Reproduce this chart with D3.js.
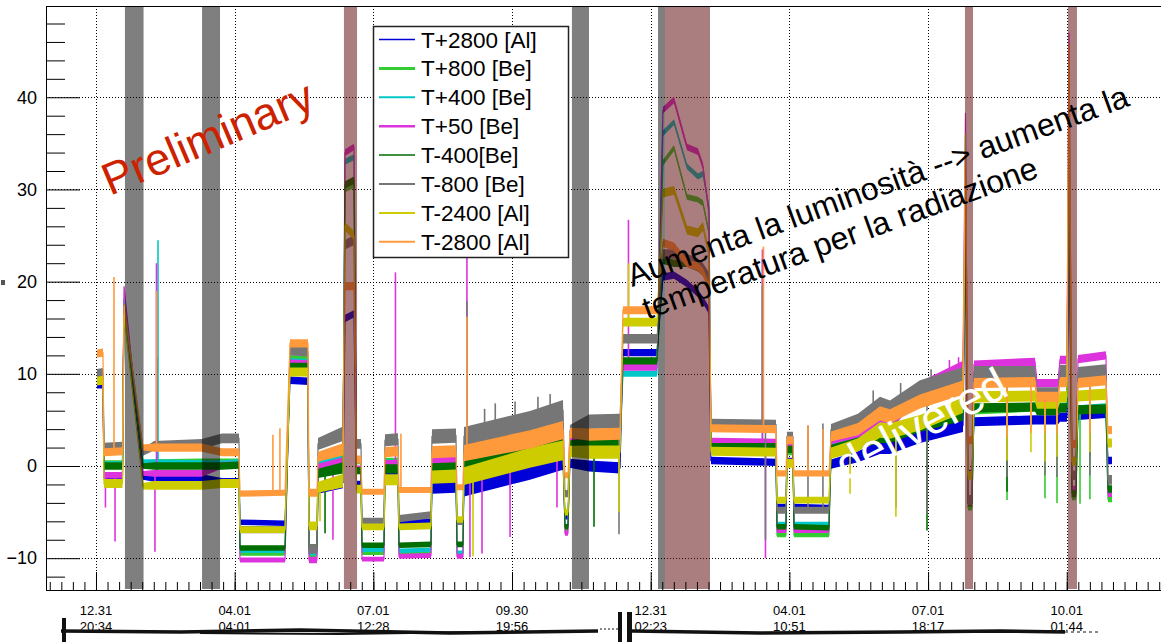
<!DOCTYPE html>
<html>
<head>
<meta charset="utf-8">
<script src="https://cdn.jsdelivr.net/npm/d3@7"></script>
<style>
  body { margin: 0; background: #fff; }
  svg { display: block; font-family: "Liberation Sans", Arial, Helvetica, sans-serif; }
</style>
</head>
<body>
<svg id="chart" width="1161" height="642"></svg>
<script>
// time in days after the first labelled tick (12.31 20:34)
var days = [0.66, 4.59, 5.25, 17.39, 18.37, 30.84, 38.06, 69.55, 82.68, 93.83,
  94.49, 124.02, 127.30, 139.11, 139.76, 145.01, 145.67, 162.07, 163.39, 169.29,
  170.93, 173.88, 174.54, 188.98, 189.63, 198.16, 198.82, 219.82, 220.47, 236.22,
  236.88, 240.81, 241.47, 284.78, 306.43, 307.74, 309.71, 311.02, 323.49, 343.83,
  345.80, 368.11, 372.05, 379.27, 387.80, 395.01, 398.29, 402.23, 403.54, 446.19,
  446.85, 452.76, 453.41, 457.35, 458.01, 480.97, 482.28, 500.00, 514.44, 521.00,
  540.68, 568.90, 570.54, 572.18, 574.80, 576.12, 616.14, 617.45, 631.23, 632.55,
  637.14, 638.45, 640.42, 643.04, 644.36, 662.73, 664.04, 666.67];

// spread of the readings (half range, °C) at each of those times
var noise = [0.4, 0.4, 0.4, 0.4, 0.2, 0.3, 0.4, 0.4, 0.4, 0.4,
  0.3, 0.3, 0.4, 0.4, 0.4, 0.4, 0.5, 0.6, 0.4, 0.4,
  0.4, 0.4, 0.3, 0.3, 0.5, 0.5, 0.3, 0.3, 0.6, 0.6,
  0.3, 0.3, 0.8, 0.9, 0.9, 0.3, 0.3, 0.5, 0.6, 0.6,
  0.4, 0.4, 0.4, 0.4, 0.4, 0.4, 0.4, 0.4, 0.4, 0.4,
  0.3, 0.3, 0.4, 0.4, 0.3, 0.3, 0.5, 0.6, 0.7, 0.7,
  0.7, 0.7, 0.5, 0.4, 0.4, 0.5, 0.5, 0.5, 0.5, 0.5,
  0.5, 0.5, 0.4, 0.4, 0.5, 0.5, 0.4, 0.4];

var tPlus2800 = [8.8, 8.8, -1.3, -1.3, 17.0, -1.2, -1.3, -1.3, -1.7, -1.7,
  -6.1, -6.2, 9.3, 9.2, -9.2, -9.2, -2.5, -1.8, 16.0, 16.5,
  -2.0, -2.0, -6.2, -6.2, -0.8, -0.8, -6.1, -6.0, -2.4, -2.3,
  -6.0, -6.0, -2.5, -0.6, 0.5, -5.5, -5.5, 0.3, 0.0, -0.2,
  12.3, 12.3, 20.5, 20.7, 19.8, 18.7, 18.0, 16.9, 0.6, 0.4,
  -4.4, -4.4, 0.5, 0.5, -4.4, -4.5, 0.2, 1.0, 2.0, 2.0,
  3.2, 4.4, 24.0, -0.8, -0.8, 4.8, 5.0, 5.0, 5.0, 5.3,
  5.3, 26.0, 0.6, 0.6, 5.5, 5.7, 0.6, 0.6];

var tPlus800 = [9.5, 9.4, 0.3, 0.3, 18.0, 0.3, 0.4, 0.5, 0.5, 0.5,
  -9.5, -9.5, 11.7, 11.6, -9.6, -9.6, 0.3, 0.8, 30.0, 30.5,
  0.5, 0.5, -9.4, -9.4, 0.5, 0.5, -9.5, -9.4, 0.3, 0.4,
  -9.5, -9.5, 0.2, 2.0, 2.9, -6.8, -6.8, 2.5, 2.3, 2.4,
  11.2, 11.2, 32.9, 34.5, 29.2, 28.9, 28.5, 25.3, 2.0, 2.0,
  -7.5, -7.5, 1.5, 1.5, -7.5, -7.5, 1.8, 2.6, 3.4, 3.3,
  4.6, 5.8, 32.0, -4.5, -4.5, 6.0, 6.3, 6.4, 6.4, 6.4,
  6.4, 38.0, -3.4, -3.4, 6.0, 6.3, -3.6, -3.6];

var tPlus400 = [9.8, 9.9, 0.2, 0.2, 18.2, 0.5, 0.4, 0.3, 0.3, 0.4,
  -9.2, -9.2, 11.4, 11.3, -9.4, -9.4, 0.4, 0.9, 33.0, 33.5,
  0.6, 0.6, -9.1, -9.1, 0.3, 0.3, -9.2, -9.1, 0.4, 0.5,
  -9.4, -9.4, 0.3, 2.1, 3.0, -6.5, -6.5, 2.8, 2.4, 2.5,
  10.0, 10.0, 36.1, 37.3, 32.5, 31.4, 31.7, 28.1, 2.2, 2.2,
  -6.3, -6.3, 2.0, 2.0, -6.3, -6.3, 2.0, 2.8, 3.6, 3.5,
  4.7, 5.9, 36.0, -4.0, -4.0, 6.2, 6.5, 7.0, 7.0, 6.5,
  6.5, 42.0, -3.0, -3.0, 6.2, 6.4, -3.0, -3.0];

var tPlus50 = [9.6, 9.8, -1.0, -1.0, 19.5, -0.8, -0.8, -0.8, 0.1, 0.1,
  -10.2, -10.2, 11.2, 11.1, -10.2, -10.2, -0.2, 0.4, 34.0, 34.6,
  -0.3, -0.3, -10.1, -10.1, 0.2, 0.2, -9.8, -9.7, 0.6, 0.6,
  -9.8, -9.8, 0.5, 2.3, 3.1, -7.3, -7.3, 2.8, 2.6, 2.7,
  10.7, 10.7, 38.6, 39.7, 34.6, 34.1, 32.5, 27.4, 2.7, 2.6,
  -7.0, -7.0, 2.2, 2.2, -7.0, -7.0, 2.8, 3.6, 4.4, 4.3,
  8.5, 10.8, 38.3, -3.5, -3.5, 11.0, 11.3, 9.0, 9.0, 11.5,
  11.5, 47.0, -2.5, -2.5, 11.6, 12.0, -3.0, -3.0];

var tMinus400 = [9.3, 9.2, 0.0, 0.0, 17.5, 0.0, 0.0, 0.0, 0.0, 0.1,
  -8.9, -8.9, 10.8, 10.8, -8.9, -8.9, -0.8, -0.2, 30.5, 31.0,
  -0.5, -0.5, -8.6, -8.6, -0.3, -0.3, -8.6, -8.5, -0.3, -0.2,
  -8.5, -8.5, 0.0, 1.8, 2.8, -6.6, -6.6, 2.3, 2.4, 2.4,
  11.4, 11.4, 22.3, 22.0, 22.0, 21.5, 21.0, 20.0, 2.1, 2.1,
  -6.6, -6.6, 1.8, 1.8, -6.6, -6.7, 1.8, 2.5, 3.2, 3.2,
  4.4, 5.6, 28.0, -4.0, -4.0, 6.3, 6.4, 6.0, 6.0, 6.3,
  6.3, 32.0, -3.0, -3.0, 6.1, 6.2, -2.5, -2.5];

var tMinus800 = [10.0, 10.1, 2.0, 2.1, 17.0, 1.5, 2.2, 2.4, 3.0, 3.0,
  -6.9, -6.9, 12.5, 12.4, -9.0, -9.0, 2.4, 3.5, 24.0, 24.5,
  2.4, 2.4, -6.0, -6.0, 2.8, 2.9, -5.7, -5.3, 3.2, 3.3,
  -6.0, -6.0, 3.2, 4.8, 6.0, -3.0, -3.0, 3.8, 4.8, 4.9,
  13.8, 13.8, 23.0, 23.0, 22.5, 22.0, 21.5, 20.5, 4.6, 4.5,
  -4.8, -4.8, 3.2, 3.2, -4.8, -4.8, 3.9, 4.9, 6.6, 6.2,
  8.4, 9.8, 30.0, -3.7, -3.7, 10.2, 10.2, 7.9, 7.9, 10.3,
  10.3, 36.0, -1.0, -1.0, 10.1, 10.4, -1.5, -1.5];

var tMinus2400 = [9.2, 9.3, -1.9, -1.9, 16.5, -2.2, -2.1, -2.1, -1.9, -1.9,
  -6.9, -6.9, 10.2, 10.2, -6.5, -6.5, -2.3, -1.6, 26.0, 25.0,
  -2.5, -2.5, -6.6, -6.6, -1.5, -1.5, -6.6, -6.5, -1.2, -1.1,
  -5.8, -5.8, -1.1, 0.9, 1.7, -5.0, -5.0, 1.6, 1.5, 1.5,
  15.6, 15.6, 29.6, 29.9, 25.6, 25.3, 26.0, 23.0, 1.6, 1.5,
  -3.7, -3.7, 0.3, 0.3, -3.7, -3.7, 1.4, 2.3, 3.9, 3.8,
  4.7, 6.6, 36.0, -1.0, -1.0, 7.5, 7.6, 6.8, 6.8, 7.5,
  7.5, 44.0, 0.5, 0.5, 7.6, 7.8, 2.5, 2.5];

var tMinus2800 = [12.2, 12.3, 1.5, 1.6, 17.5, 2.0, 2.0, 2.0, 1.5, 1.5,
  -3.0, -2.9, 13.3, 13.3, -2.9, -2.9, 1.0, 1.8, 19.5, 19.5,
  0.7, 0.7, -2.8, -2.8, 1.5, 1.6, -2.6, -2.6, 1.5, 1.6,
  -2.3, -2.3, 1.4, 2.9, 3.9, -1.0, -1.0, 3.6, 3.4, 3.5,
  16.9, 16.9, 24.2, 23.8, 22.0, 21.6, 21.0, 19.5, 4.1, 4.0,
  -0.8, -0.8, 2.8, 2.8, -0.8, -0.8, 3.2, 4.0, 5.7, 5.4,
  7.0, 8.5, 34.0, 2.8, 2.8, 9.0, 9.1, 7.5, 7.5, 9.1,
  9.1, 45.8, 2.4, 2.4, 9.0, 9.3, 3.9, 3.9];

var seriesNames = ["T+2800 [Al]", "T+800 [Be]", "T+400 [Be]", "T+50 [Be]",
  "T-400[Be]", "T-800 [Be]", "T-2400 [Al]", "T-2800 [Al]"];
var seriesValues = [tPlus2800, tPlus800, tPlus400, tPlus50, tMinus400, tMinus800, tMinus2400, tMinus2800];

// short excursions: [series index, day, from, to]
var spikes = [
  [3, 6.2, -1.0, -4.5], [7, 11.8, 1.5, 20.5], [3, 12.5, -1.0, -8.2],
  [3, 38.7, -0.8, -9.3], [3, 39.7, -0.8, 22.0], [7, 39.7, 2.0, 19.0],
  [2, 40.7, 0.4, 24.5], [0, 40.0, -1.3, 11.8],
  [7, 116.1, -2.9, 3.4], [7, 120.7, -2.9, 4.1],
  [6, 147.0, -2.2, -6.0], [4, 150.3, -0.7, -7.3], [3, 155.5, 0.0, -8.0],
  [3, 196.5, 0.2, 21.0], [7, 200.1, -2.6, 3.5],
  [3, 243.4, 0.5, 23.0], [5, 243.4, 4.0, 17.9], [7, 243.4, 1.3, 16.2],
  [3, 245.4, 0.5, -9.9], [6, 247.4, -1.2, -9.8], [3, 253.3, 1.0, -9.5],
  [5, 255.0, 3.8, 6.2], [5, 262.0, 4.0, 6.8], [5, 275.0, 4.5, 7.0],
  [5, 290.0, 5.0, 7.5], [5, 298.0, 5.5, 7.8],
  [3, 271.7, 1.8, -7.7], [3, 302.5, 3.0, -4.5], [4, 326.8, 2.4, -6.6],
  [5, 343.2, 4.9, -7.4], [6, 343.2, 1.5, -5.0],
  [3, 349.4, 10.7, 26.7], [6, 349.4, 15.6, 22.0],
  [3, 437.3, 2.6, 23.5], [2, 437.3, 2.2, 22.5], [5, 437.3, 4.5, 19.5],
  [7, 438.0, 4.0, 23.8], [3, 439.3, 2.6, -10.0], [5, 439.3, 4.5, -8.0],
  [5, 467.2, -4.8, 4.4], [7, 467.2, -0.8, 4.4],
  [5, 477.0, -4.8, 4.6], [7, 477.0, -0.8, 4.0],
  [5, 510.0, 6.0, 8.2], [5, 528.0, 6.4, 9.0], [5, 548.0, 8.6, 10.5],
  [3, 560.0, 9.5, 11.5], [3, 566.0, 9.8, 11.8],
  [6, 494.8, 2.0, -3.0], [6, 524.9, 3.8, -5.5], [5, 524.9, 6.6, -4.5],
  [5, 545.3, 8.0, -5.2], [4, 545.3, 4.5, -7.0],
  [1, 597.8, 6.3, -3.7], [4, 597.8, 6.4, -2.8], [5, 597.8, 10.4, -1.2],
  [6, 597.8, 7.6, 0.6], [0, 597.8, 5.0, 0.0], [7, 597.8, 9.0, 3.1],
  [7, 613.5, 9.0, 3.6], [6, 613.5, 7.6, 1.5],
  [1, 622.7, 6.4, -3.5], [5, 622.7, 7.9, -1.0], [6, 622.7, 6.8, 0.5],
  [7, 622.7, 7.5, 3.5], [0, 622.7, 5.0, 0.5],
  [1, 630.6, 6.4, -4.0], [5, 630.6, 7.9, -1.2], [6, 630.6, 6.8, 1.0], [7, 630.6, 7.5, 3.5],
  [1, 645.7, 6.0, -4.1],
  [1, 652.2, 6.0, -3.6], [5, 652.2, 10.3, -1.0], [6, 652.2, 7.6, 1.5],
  [7, 652.2, 9.0, 3.5], [0, 652.2, 5.5, 1.0]
];

// shaded periods [start day, end day]
var greyBands = [[19.0, 31.2], [69.6, 81.4], [312.3, 323.5], [368.8, 373.4]];
var beamBands = [[162.7, 171.3], [373.4, 402.9], [570.2, 575.5], [637.8, 643.7]];

var tickDays = [0, 91, 182, 273, 364, 455, 546, 637];
var tickDates = ["12.31", "04.01", "07.01", "09.30", "12.31", "04.01", "07.01", "10.01"];
var tickTimes = ["20:34", "04:01", "12:28", "19:56", "02:23", "10:51", "18:17", "01:44"];
var yTicks = [-10, 0, 10, 20, 30, 40];

var colors = ["#0000d8", "#33cc33", "#00c8c8", "#dd33dd", "#006e00", "#767676", "#cccc00", "#ff9a3c"];
var spreadScale = [1.0, 0.8, 0.8, 0.9, 1.0, 1.3, 1.2, 1.1];
var legendWidth = [1.5, 3, 2, 2.5, 1.5, 2, 2, 2];

var svg = d3.select("#chart");
var plotL = 46, plotR = 1162, plotT = 6, plotB = 590;
var x = d3.scaleLinear().domain([-32.8, 699.5]).range([plotL, plotR]);
var y = d3.scaleLinear().domain([-13.45, 49.9]).range([plotB, plotT]);

svg.append("rect").attr("width", 1161).attr("height", 642).attr("fill", "#fff");

// dotted grid
var grid = svg.append("g").attr("stroke", "#000").attr("stroke-width", 1).attr("stroke-dasharray", "1,2");
grid.selectAll(".gy").data(yTicks).join("line")
  .attr("x1", plotL).attr("x2", plotR)
  .attr("y1", d => Math.round(y(d)) + 0.5).attr("y2", d => Math.round(y(d)) + 0.5);
grid.selectAll(".gx").data(tickDays).join("line")
  .attr("y1", plotT).attr("y2", plotB)
  .attr("x1", d => Math.round(x(d)) + 0.5).attr("x2", d => Math.round(x(d)) + 0.5);

// series: a band for the spread of the readings plus a thin trace
var line = d3.line().x(d => x(d[0])).y(d => y(d[1]));
var plot = svg.append("g");
seriesValues.forEach(function(vals, i) {
  var pts = days.map((d, k) => [d, vals[k], noise[k] * spreadScale[i]]);
  var band = d3.area().x(d => x(d[0]))
    .y0(d => Math.max(y(d[1] - d[2]), y(d[1]) + 1.5))
    .y1(d => Math.min(y(d[1] + d[2]), y(d[1]) - 1.5));
  plot.append("path").datum(pts).attr("d", band).attr("fill", colors[i]);
  plot.append("path").datum(pts).attr("d", line)
    .attr("fill", "none").attr("stroke", colors[i]).attr("stroke-width", 1.2);
  plot.selectAll(null).data(spikes.filter(s => s[0] === i)).join("line")
    .attr("x1", s => x(s[1])).attr("x2", s => x(s[1]))
    .attr("y1", s => y(s[2])).attr("y2", s => y(s[3]))
    .attr("stroke", colors[i]).attr("stroke-width", 1.6);
});

// shaded periods drawn over the data
svg.append("g").selectAll("rect").data(greyBands).join("rect")
  .attr("x", d => x(d[0])).attr("width", d => x(d[1]) - x(d[0]))
  .attr("y", 7).attr("height", 582).attr("fill", "rgba(0,0,0,0.5)");
svg.append("g").selectAll("rect").data(beamBands).join("rect")
  .attr("x", d => x(d[0])).attr("width", d => x(d[1]) - x(d[0]))
  .attr("y", 7).attr("height", 582).attr("fill", "rgba(100,20,20,0.55)");

// axes
var gy = svg.append("g").attr("transform", "translate(" + plotL + ",0)")
  .call(d3.axisLeft(y).tickValues(yTicks).tickSizeInner(-34).tickSizeOuter(0).tickPadding(9));
svg.append("g").attr("transform", "translate(" + plotL + ",0)")
  .call(d3.axisLeft(y).tickValues(d3.range(-12, 50, 2).filter(v => v % 10 !== 0)).tickSize(-19).tickFormat(""));
gy.selectAll("text").attr("font-size", 18).attr("font-family", "Liberation Sans, Arial, sans-serif").attr("fill", "#000");

svg.append("g").attr("transform", "translate(0," + plotB + ")")
  .call(d3.axisBottom(x).tickValues(tickDays).tickSizeInner(-18).tickSizeOuter(0).tickFormat(""));
svg.append("g").attr("transform", "translate(0," + plotB + ")")
  .call(d3.axisBottom(x).tickValues(d3.range(-4, 93).map(k => k * 91 / 12)).tickSize(-8).tickFormat(""));
svg.append("line").attr("x1", plotL).attr("x2", plotR).attr("y1", plotT + 0.5).attr("y2", plotT + 0.5)
  .attr("stroke", "#000").attr("stroke-width", 1.2);

var xl = svg.append("g").attr("font-size", 13).attr("text-anchor", "middle").attr("fill", "#000");
xl.selectAll(".d").data(tickDays).join("text").attr("x", d => x(d)).attr("y", 615).text((d, i) => tickDates[i]);
xl.selectAll(".t").data(tickDays).join("text").attr("x", d => x(d)).attr("y", 631).text((d, i) => tickTimes[i]);

// smeared line under the time labels (scan artefact)
var smear = svg.append("g").attr("fill", "none").attr("stroke", "#111");
smear.append("path").attr("d", "M61,631 L180,632 L300,630 L450,633 L598,631").attr("stroke-width", 3.5);
smear.append("path").attr("d", "M200,633 L340,634 L480,632").attr("stroke-width", 2);
smear.append("path").attr("d", "M600,629 L618,629").attr("stroke-width", 1).attr("stroke-dasharray", "2,2");
smear.append("path").attr("d", "M632,631 L760,633 L900,632 L1000,631 L1065,632").attr("stroke-width", 3.5);
smear.append("path").attr("d", "M1065,632 L1100,632").attr("stroke-width", 1).attr("stroke-dasharray", "3,3");
svg.append("rect").attr("x", 62).attr("y", 618).attr("width", 4).attr("height", 24).attr("fill", "#111");
svg.append("rect").attr("x", 618).attr("y", 612).attr("width", 4).attr("height", 30).attr("fill", "#111");
svg.append("rect").attr("x", 627).attr("y", 612).attr("width", 5).attr("height", 30).attr("fill", "#111");
svg.append("rect").attr("x", 1).attr("y", 280).attr("width", 4).attr("height", 5).attr("fill", "#555");

// legend
var lg = svg.append("g");
lg.append("rect").attr("x", 373.5).attr("y", 26.5).attr("width", 195).attr("height", 231)
  .attr("fill", "#fff").attr("stroke", "#222").attr("stroke-width", 1.5);
seriesNames.forEach(function(name, i) {
  var cy = 39.5 + i * 28.9;
  lg.append("line").attr("x1", 379).attr("x2", 415).attr("y1", cy).attr("y2", cy)
    .attr("stroke", colors[i]).attr("stroke-width", legendWidth[i]);
  lg.append("text").attr("x", 421).attr("y", cy + 8).attr("font-size", 22.5).attr("fill", "#000").text(name);
});

// annotations
svg.append("text").attr("transform", "translate(110,196) rotate(-23)")
  .attr("font-size", 45).attr("fill", "#cc2200").text("Preliminary");
var note = svg.append("text").attr("transform", "translate(632,287) rotate(-20)")
  .attr("font-size", 32).attr("fill", "#000");
note.append("tspan").attr("x", 0).attr("y", 0).text("Aumenta la luminosità --> aumenta la");
note.append("tspan").attr("x", 3).attr("y", 36).text("temperatura per la radiazione");
svg.append("text").attr("transform", "translate(846,482) rotate(-28)")
  .attr("font-size", 46).attr("fill", "#fff").text("delivered");
</script>
</body>
</html>
